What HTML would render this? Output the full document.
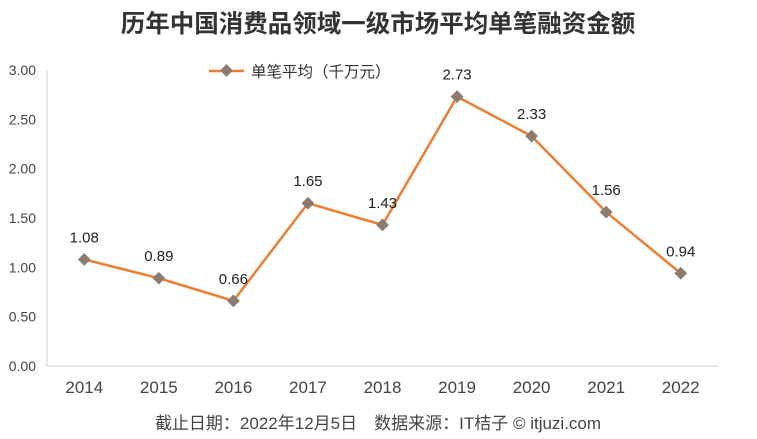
<!DOCTYPE html>
<html><head><meta charset="utf-8"><style>
body{margin:0;background:#fff;}
svg{display:block;font-family:"Liberation Sans","Noto Sans CJK SC",sans-serif;}
</style></head><body>
<svg id="chart" width="757" height="439">
<text x="378" y="32" text-anchor="middle" font-size="24.5" font-weight="bold" fill="#333">历年中国消费品领域一级市场平均单笔融资金额</text>
<g>
<line x1="209" y1="71" x2="244" y2="71" stroke="#ED7D31" stroke-width="2.5"/>
<rect x="222" y="66" width="9" height="9" fill="#8C7B6F" transform="rotate(45 226.5 70.5)"/>
<text x="251" y="77" font-size="15.5" fill="#333">单笔平均（千万元）</text>
</g>
<g id="axes"></g>
<g id="marks"></g>
<text x="378" y="429" text-anchor="middle" font-size="17" fill="#444">截止日期：2022年12月5日　数据来源：IT桔子 © itjuzi.com</text>
</svg>
<script>
const categories=["2014","2015","2016","2017","2018","2019","2020","2021","2022"];
const values=[1.08,0.89,0.66,1.65,1.43,2.73,2.33,1.56,0.94];
const yTicks=[0,0.5,1,1.5,2,2.5,3];
const NS="http://www.w3.org/2000/svg";
const x0=47,x1=718,yTop=70,yBot=366,yMax=3;
const bw=(x1-x0)/categories.length;
const xs=i=>x0+bw*(i+0.5);
const ys=v=>yBot-(v/yMax)*(yBot-yTop);
function mk(t,a,p){const e=document.createElementNS(NS,t);for(const k in a)e.setAttribute(k,a[k]);p.appendChild(e);return e;}
const ax=document.getElementById('axes'),mg=document.getElementById('marks');
const yl=mk('line',{x1:x0,y1:yTop,x2:x0,y2:yBot,stroke:'#d0d0d0','stroke-width':1},ax);


const xl=mk('line',{x1:x0,y1:yBot,x2:x1,y2:yBot,stroke:'#d0d0d0','stroke-width':1},ax);


yTicks.forEach(v=>{const t=mk('text',{x:36,y:ys(v)+5,'text-anchor':'end','font-size':14,fill:'#444'},ax);t.textContent=v.toFixed(2);

});
categories.forEach((c,i)=>{const t=mk('text',{x:xs(i),y:393,'text-anchor':'middle','font-size':17,fill:'#444'},ax);t.textContent=c;

});
const pl=mk('polyline',{points:values.map((v,i)=>xs(i)+','+ys(v)).join(' '),fill:'none',stroke:'#ED7D31','stroke-width':2.5,'stroke-linejoin':'round'},mg);


values.forEach((v,i)=>{const x=xs(i),y=ys(v);
const r=mk('rect',{x:x-4.5,y:y-4.5,width:9,height:9,fill:'#8C7B6F',transform:`rotate(45 ${x} ${y})`},mg);


const t=mk('text',{x:x,y:y-17,'text-anchor':'middle','font-size':15,fill:'#222'},mg);t.textContent=v.toFixed(2);

});
</script>
</body></html>
